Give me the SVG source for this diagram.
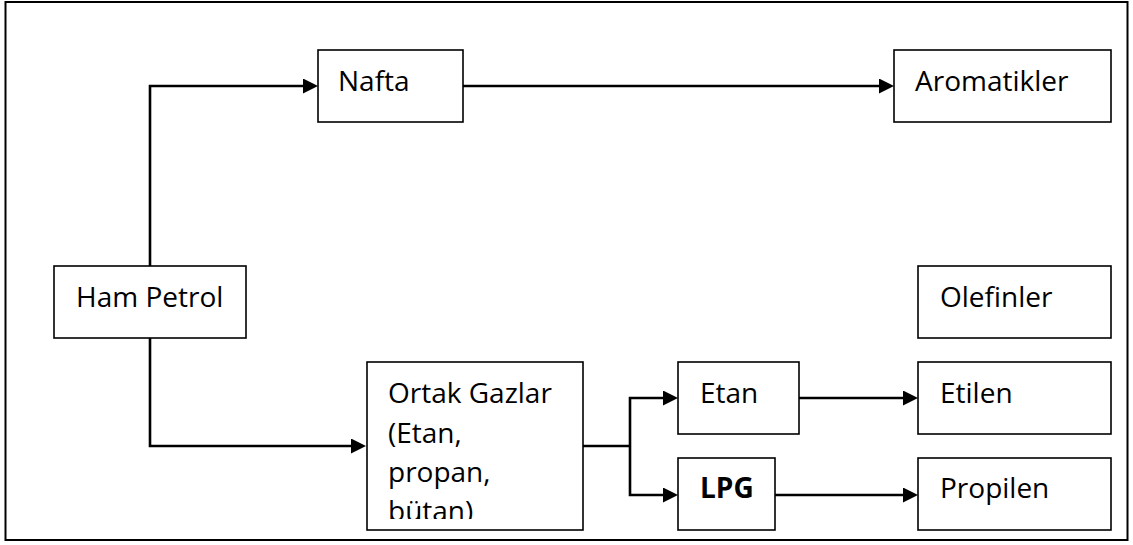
<svg xmlns="http://www.w3.org/2000/svg" width="1133" height="545" viewBox="0 0 1133 545">
  <style>
    .box { fill: #ffffff; stroke: #000000; stroke-width: 1.6; }
    .lbl { font-family: "Open Sans", "Noto Sans", "Liberation Sans", sans-serif; font-size: 28px; fill: #000000; }
    .bold { font-weight: bold; }
    .conn { fill: none; stroke: #000000; stroke-width: 2.6; }
  </style>
  <defs>
    <marker id="arrow" viewBox="0 0 15 15" refX="1" refY="7.5" markerWidth="15" markerHeight="15" markerUnits="userSpaceOnUse" orient="auto">
      <path d="M0,0 L15,7.5 L0,15 Z" fill="#000000"/>
    </marker>
    <clipPath id="clipOrtak">
      <rect x="367" y="362" width="216" height="157"/>
    </clipPath>
  </defs>
  <rect x="0" y="0" width="1133" height="545" fill="#ffffff"/>
  <rect id="frame" x="5.5" y="2" width="1122" height="538" fill="none" stroke="#000000" stroke-width="2"/>

  <g id="connectors">
    <path class="conn" d="M150,266 V86 H304" marker-end="url(#arrow)"/>
    <path class="conn" d="M463,86 H880" marker-end="url(#arrow)"/>
    <path class="conn" d="M150,338 V446 H352" marker-end="url(#arrow)"/>
    <path class="conn" d="M583,446 H630"/>
    <path class="conn" d="M630,446 V398 H664" marker-end="url(#arrow)"/>
    <path class="conn" d="M630,446 V495 H664" marker-end="url(#arrow)"/>
    <path class="conn" d="M799,398 H904" marker-end="url(#arrow)"/>
    <path class="conn" d="M775,495 H904" marker-end="url(#arrow)"/>
  </g>

  <g id="node-nafta">
    <rect class="box" x="318" y="50" width="145" height="72"/>
    <text class="lbl" x="338" y="91">Nafta</text>
  </g>
  <g id="node-aromatikler">
    <rect class="box" x="894" y="50" width="217" height="72"/>
    <text class="lbl" x="915" y="91">Aromatikler</text>
  </g>
  <g id="node-ham-petrol">
    <rect class="box" x="54" y="266" width="192" height="72"/>
    <text class="lbl" x="76" y="307">Ham Petrol</text>
  </g>
  <g id="node-olefinler">
    <rect class="box" x="918" y="266" width="193" height="72"/>
    <text class="lbl" x="940" y="307">Olefinler</text>
  </g>
  <g id="node-ortak-gazlar">
    <rect class="box" x="367" y="362" width="216" height="168"/>
    <g clip-path="url(#clipOrtak)">
      <text class="lbl" x="388" y="403">Ortak Gazlar</text>
      <text class="lbl" x="388" y="443">(Etan,</text>
      <text class="lbl" x="388" y="482">propan,</text>
      <text class="lbl" x="388" y="521">bütan)</text>
    </g>
  </g>
  <g id="node-etan">
    <rect class="box" x="678" y="362" width="121" height="72"/>
    <text class="lbl" x="700" y="403">Etan</text>
  </g>
  <g id="node-etilen">
    <rect class="box" x="918" y="362" width="193" height="72"/>
    <text class="lbl" x="940" y="403">Etilen</text>
  </g>
  <g id="node-lpg">
    <rect class="box" x="678" y="458" width="97" height="72"/>
    <text class="lbl bold" x="700" y="498">LPG</text>
  </g>
  <g id="node-propilen">
    <rect class="box" x="918" y="458" width="193" height="72"/>
    <text class="lbl" x="940" y="498">Propilen</text>
  </g>
</svg>
